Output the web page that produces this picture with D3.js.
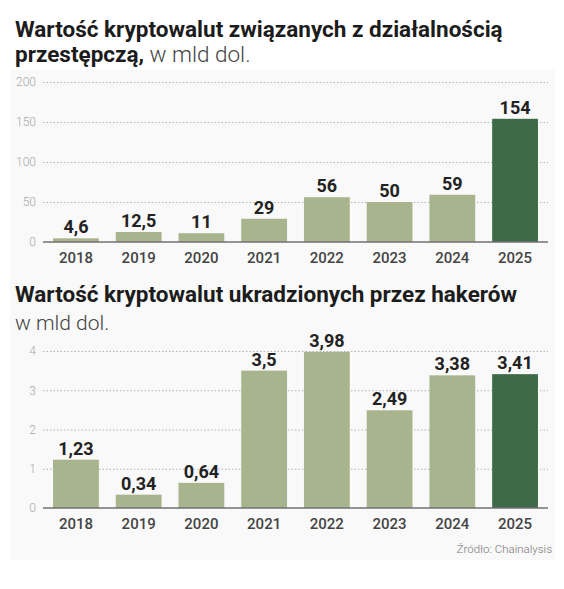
<html>
<script src="https://d3js.org/d3.v7.min.js"></script>
<style>
body {margin: 0; background: #fff;}
text {font-family: Roboto, "Noto Sans", sans-serif;}
.grid line {stroke: #b5b5b5; stroke-dasharray: 1.5,2;}
.grid text {fill: #a8a8a8; font-size: 12px; font-weight: 300;}
</style>
<body>
<svg id="chart" width="564" height="589"></svg>
<script>
// data
var years = ["2018", "2019", "2020", "2021", "2022", "2023", "2024", "2025"];
var crimeValues = [4.6, 12.5, 11, 29, 56, 50, 59, 154];
var hackValues = [1.23, 0.34, 0.64, 3.5, 3.98, 2.49, 3.38, 3.41];
var crimeTicks = [0, 50, 100, 150, 200];
var hackTicks = [0, 1, 2, 3, 4];

var lightGreen = "#a8b48d", darkGreen = "#3e6b47";

var svg = d3.select("#chart");

// faint panel behind both charts
svg.append("rect")
  .attr("x", 10).attr("y", 70)
  .attr("width", 545).attr("height", 490)
  .attr("fill", "#f9f9f9");

var x = d3.scaleBand()
  .domain(years)
  .range([43, 548])
  .paddingInner(0.27)
  .paddingOuter(0.16);

function fmt(v) { return String(v).replace(".", ","); }

function drawChart(values, ticks, zeroY, topY) {
  var y = d3.scaleLinear()
    .domain([0, d3.max(ticks)])
    .range([zeroY, topY]);

  // dotted gridlines + tick labels
  var grid = svg.append("g")
    .attr("class", "grid")
    .attr("transform", "translate(43,0)")
    .call(d3.axisLeft(y).tickValues(ticks).tickFormat(fmt).tickSize(-505).tickPadding(7));
  grid.select(".domain").remove();
  grid.selectAll("line").filter(function(d) { return d === 0; }).remove();

  // bars
  svg.append("g").selectAll("rect")
    .data(values)
    .enter().append("rect")
    .attr("x", function(d, i) { return x(years[i]); })
    .attr("y", function(d) { return y(d); })
    .attr("width", x.bandwidth())
    .attr("height", function(d) { return zeroY - y(d); })
    .attr("fill", function(d, i) { return i === years.length - 1 ? darkGreen : lightGreen; });

  // baseline
  svg.append("line")
    .attr("x1", 43).attr("x2", 548)
    .attr("y1", zeroY).attr("y2", zeroY)
    .attr("stroke", "#707070").attr("stroke-width", 1.5);

  // value labels
  svg.append("g").selectAll("text")
    .data(values)
    .enter().append("text")
    .attr("x", function(d, i) { return x(years[i]) + x.bandwidth() / 2; })
    .attr("y", function(d) { return y(d) - 5; })
    .attr("text-anchor", "middle")
    .style("font-size", "18px")
    .style("font-weight", 700)
    .style("fill", "#222")
    .text(fmt);

  // year labels
  svg.append("g").selectAll("text")
    .data(years)
    .enter().append("text")
    .attr("x", function(d) { return x(d) + x.bandwidth() / 2; })
    .attr("y", zeroY + 21)
    .attr("text-anchor", "middle")
    .style("font-size", "15px")
    .style("font-weight", 500)
    .style("fill", "#444")
    .text(function(d) { return d; });
}

// titles
svg.append("text").attr("x", 15).attr("y", 37)
  .style("font-size", "22.5px").style("font-weight", 700).style("fill", "#1c1c1c")
  .text("Wartość kryptowalut związanych z działalnością");
var t2 = svg.append("text").attr("x", 15).attr("y", 62)
  .style("font-size", "22.5px").style("fill", "#1c1c1c");
t2.append("tspan").style("font-weight", 700).text("przestępczą,");
t2.append("tspan").style("font-weight", 300).style("fill", "#444").text(" w mld dol.");

svg.append("text").attr("x", 15).attr("y", 302)
  .style("font-size", "22.5px").style("font-weight", 700).style("fill", "#1c1c1c")
  .text("Wartość kryptowalut ukradzionych przez hakerów");
svg.append("text").attr("x", 15).attr("y", 330)
  .style("font-size", "21px").style("font-weight", 300).style("fill", "#444")
  .text("w mld dol.");

drawChart(crimeValues, crimeTicks, 242, 82);
drawChart(hackValues, hackTicks, 508, 351);

// source
svg.append("text").attr("x", 552).attr("y", 553)
  .attr("text-anchor", "end")
  .style("font-size", "11.5px").style("font-weight", 300).style("fill", "#777")
  .text("Źródło: Chainalysis");
</script>
</body>
</html>
